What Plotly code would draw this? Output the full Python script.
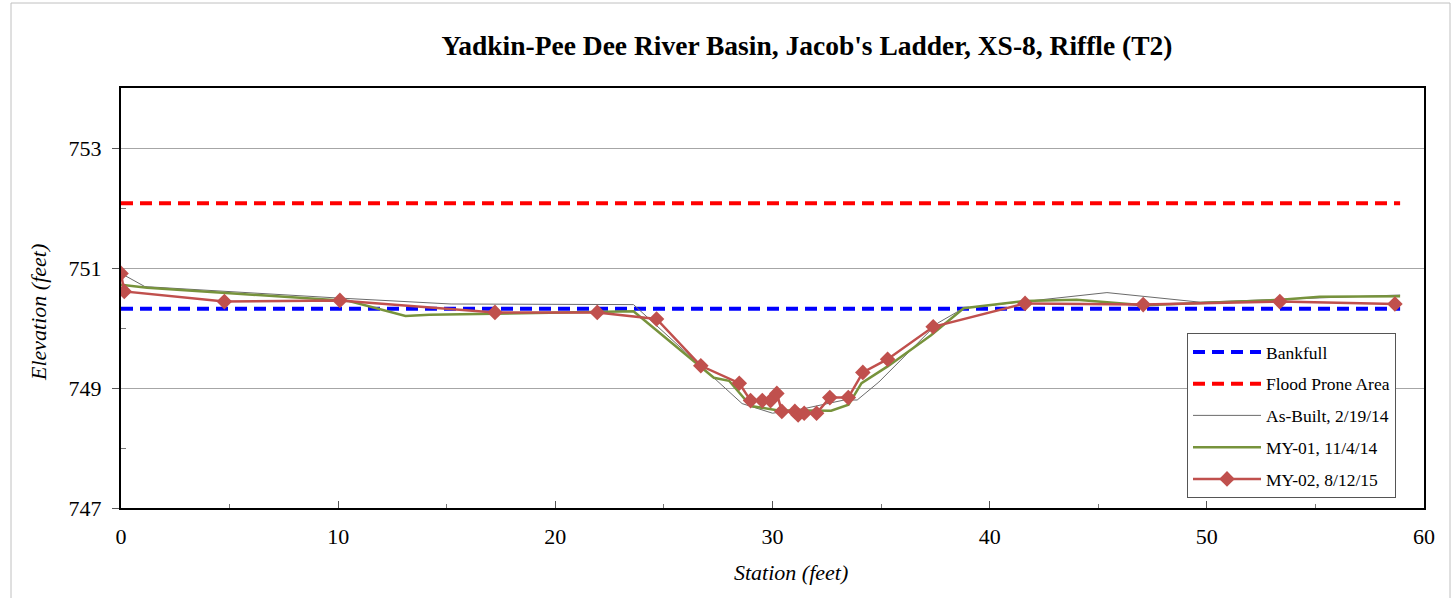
import plotly.graph_objects as go

# ---- data ----
bankfull_x = [0, 58.9]
bankfull_y = [750.32, 750.32]
flood_x = [0, 58.9]
flood_y = [752.08, 752.08]

station_ab = [0, 1.1, 10.0, 15.2, 23.6, 28.6, 30.0, 31.5, 33.3, 33.9, 34.9, 37.6, 38.8, 41.6, 45.4, 49.7, 58.9]
elev_ab = [750.91, 750.69, 750.50, 750.40, 750.39, 748.74, 748.58, 748.66, 748.80, 748.80, 749.10, 750.08, 750.33, 750.44, 750.59, 750.43, 750.55]

station_my1 = [0, 1.2, 10.5, 13.1, 14.2, 23.6, 27.3, 28.0, 29.0, 30.2, 32.7, 33.5, 34.1, 35.3, 37.3, 38.8, 41.6, 44.0, 47.1, 53.4, 55.2, 58.9]
elev_my1 = [750.72, 750.67, 750.45, 750.20, 750.22, 750.28, 749.17, 749.12, 748.70, 748.63, 748.62, 748.72, 749.08, 749.36, 749.88, 750.33, 750.45, 750.47, 750.38, 750.47, 750.52, 750.53]

station_my2 = [0, 0.15, 4.76, 10.08, 17.22, 21.93, 24.66, 26.70, 28.47, 28.99, 29.53, 29.91, 30.20, 30.43, 31.03, 31.18, 31.46, 32.03, 32.64, 33.49, 34.16, 35.30, 37.40, 41.63, 47.07, 53.36, 58.66]
elev_my2 = [750.91, 750.61, 750.44, 750.46, 750.26, 750.26, 750.15, 749.37, 749.08, 748.79, 748.79, 748.79, 748.91, 748.61, 748.61, 748.55, 748.58, 748.58, 748.84, 748.84, 749.26, 749.48, 750.02, 750.41, 750.39, 750.44, 750.40]

x_ticks = [0, 10, 20, 30, 40, 50, 60]
y_ticks = [747, 749, 751, 753]

FONT = "Liberation Serif, Times New Roman, serif"

fig = go.Figure()
fig.add_trace(go.Scatter(x=bankfull_x, y=bankfull_y, mode="lines", name="Bankfull",
                         legendgroup="a", line=dict(color="#0000FF", width=4, dash="12px,7px")))
fig.add_trace(go.Scatter(x=flood_x, y=flood_y, mode="lines", name="Flood Prone Area",
                         legendgroup="b", line=dict(color="#FF0000", width=4, dash="12px,7px")))
fig.add_trace(go.Scatter(x=station_ab, y=elev_ab, mode="lines", name="As-Built, 2/19/14",
                         legendgroup="c", line=dict(color="#6a6a6a", width=1)))
fig.add_trace(go.Scatter(x=station_my1, y=elev_my1, mode="lines", name="MY-01, 11/4/14",
                         legendgroup="d", line=dict(color="#77933C", width=2.5)))
fig.add_trace(go.Scatter(x=station_my2, y=elev_my2, mode="lines+markers", name="MY-02, 8/12/15",
                         legendgroup="e", line=dict(color="#C0504D", width=2.5),
                         marker=dict(symbol="diamond", size=12, color="#C0504D")))

L, R, T, B = 121, 30, 88, 90
W, H = 1454, 598
pw = W - L - R
ph = H - T - B

def px(xp):
    return (xp - L) / pw

def py(yp):
    return (H - B - yp) / ph

fig.update_layout(
    width=W, height=H,
    margin=dict(l=L, r=R, t=T, b=B, pad=0),
    paper_bgcolor="white", plot_bgcolor="white",
    font=dict(family=FONT, size=22, color="black"),
    showlegend=True,
    legend=dict(x=px(1187), y=py(333), xanchor="left", yanchor="top",
                bgcolor="white", bordercolor="#555555", borderwidth=1,
                font=dict(family=FONT, size=17.5, color="black"),
                traceorder="grouped", tracegroupgap=6, itemwidth=68),
    xaxis=dict(range=[0, 60], tickvals=x_ticks, ticks="inside", ticklen=7, tickcolor="#555",
               showline=True, linecolor="black", linewidth=2, mirror=True,
               showgrid=False, zeroline=False, ticklabelstandoff=8,
               minor=dict(dtick=5, ticks="inside", ticklen=4, tickcolor="#777"),
               tickfont=dict(family=FONT, size=22)),
    yaxis=dict(range=[747, 754], tickvals=y_ticks, ticks="outside", ticklen=7, tickcolor="#555",
               showline=True, linecolor="black", linewidth=2, mirror=True,
               showgrid=True, gridcolor="#a6a6a6", gridwidth=1, zeroline=False, ticklabelstandoff=6,
               minor=dict(tickvals=[748, 750, 752], ticks="inside", ticklen=5, tickcolor="#777", showgrid=False),
               tickfont=dict(family=FONT, size=22)),
    title=dict(text="<b>Yadkin-Pee Dee River Basin, Jacob's Ladder, XS-8, Riffle (T2)</b>",
               x=px(807), xref="paper", xanchor="center",
               y=1 - 45 / H, yref="container", yanchor="middle",
               font=dict(family=FONT, size=27.5, color="black")),
)

fig.add_annotation(text="<i>Station (feet)</i>", xref="paper", yref="paper",
                   x=px(791), y=py(572), xanchor="center", yanchor="middle",
                   showarrow=False, font=dict(family=FONT, size=22))
fig.add_annotation(text="<i>Elevation (feet)</i>", xref="paper", yref="paper",
                   x=px(38), y=py(313), xanchor="center", yanchor="middle", textangle=-90,
                   showarrow=False, font=dict(family=FONT, size=22))

# outer chart-area frame
fig.add_shape(type="rect", xref="paper", yref="paper",
              x0=px(11), x1=px(1450), y0=py(640), y1=py(3),
              line=dict(color="#c0c0c0", width=1), fillcolor="rgba(0,0,0,0)", layer="below")

fig.write_html("out.html", config={"displayModeBar": False},
               post_script="document.body.style.margin='0';document.body.style.overflow='hidden';")
